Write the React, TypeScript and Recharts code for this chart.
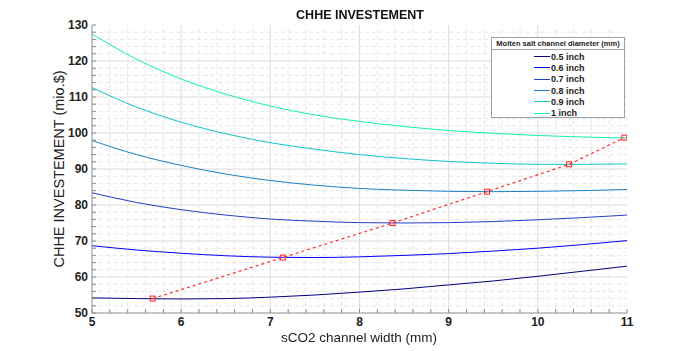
import { Line, LineChart, ReferenceLine, XAxis, YAxis } from "recharts";

// sCO2 channel width (mm) sampled every 0.5 mm
const widths = [5, 5.5, 6, 6.5, 7, 7.5, 8, 8.5, 9, 9.5, 10, 10.5, 11];

// CHHE investment (mio.$) per molten salt channel diameter
const cost05 = [54.2, 54.0, 53.9, 54.0, 54.4, 55.0, 55.8, 56.7, 57.8, 58.9, 60.2, 61.6, 63.0];
const cost06 = [68.7, 67.5, 66.6, 65.9, 65.5, 65.4, 65.6, 66.0, 66.5, 67.2, 68.0, 69.0, 70.1];
const cost07 = [83.4, 80.7, 78.7, 77.2, 76.1, 75.5, 75.1, 75.0, 75.1, 75.4, 75.9, 76.5, 77.2];
const cost08 = [97.9, 94.0, 91.0, 88.6, 86.8, 85.5, 84.6, 84.1, 83.8, 83.7, 83.8, 84.0, 84.3];
const cost09 = [112.6, 107.2, 103.0, 99.8, 97.3, 95.5, 94.0, 92.9, 92.1, 91.6, 91.3, 91.3, 91.4];
const cost10 = [127.5, 120.5, 115.0, 110.8, 107.5, 105.0, 103.2, 101.8, 100.7, 99.9, 99.3, 98.9, 98.6];

// optimum (minimum cost) points
const optWidth = [5.68, 7.14, 8.37, 9.43, 10.35, 10.97];
const optCost = [54.0, 65.4, 75.0, 83.7, 91.3, 98.7];

const xMajor = [5, 6, 7, 8, 9, 10, 11];
const yMajor = [50, 60, 70, 80, 90, 100, 110, 120, 130];

const series = [
  { key: "c05", name: "0.5 inch", color: "#000080", values: cost05 },
  { key: "c06", name: "0.6 inch", color: "#0000ff", values: cost06 },
  { key: "c07", name: "0.7 inch", color: "#1f40c8", values: cost07 },
  { key: "c08", name: "0.8 inch", color: "#1a80c8", values: cost08 },
  { key: "c09", name: "0.9 inch", color: "#10c4c8", values: cost09 },
  { key: "c10", name: "1 inch", color: "#10f0b4", values: cost10 }
];

const data = widths.map((w, i) => {
  const row: Record<string, number> = { w };
  series.forEach((s) => (row[s.key] = s.values[i]));
  return row;
});
const optData = optWidth.map((w, i) => ({ w, opt: optCost[i] }));

const xTicks: number[] = [];
for (let v = 50; v <= 110; v += 2) xTicks.push(v / 10);
const yTicks: number[] = [];
for (let v = 50; v <= 130; v += 2) yTicks.push(v);

const FONT = '"Liberation Sans", Arial, sans-serif';
const AXIS = "#8c8c8c";
const isMajor = (v: number, list: number[]) => list.some((m) => Math.abs(m - v) < 1e-6);

function XTick({ x, y, payload, side }: any) {
  const dir = side === "top" ? 1 : -1;
  return (
    <g>
      <line x1={x} y1={y} x2={x} y2={y + dir * 4} stroke={AXIS} />
      {side !== "top" && isMajor(payload.value, xMajor) && (
        <text x={x} y={y + 13} textAnchor="middle" fontSize={12} fontWeight="bold" fill="#222" fontFamily={FONT}>
          {payload.value}
        </text>
      )}
    </g>
  );
}

function YTick({ x, y, payload, side }: any) {
  const dir = side === "right" ? -1 : 1;
  return (
    <g>
      <line x1={x} y1={y} x2={x + dir * 4} y2={y} stroke={AXIS} />
      {side !== "right" && isMajor(payload.value, yMajor) && (
        <text x={x - 4} y={y + 4} textAnchor="end" fontSize={12} fontWeight="bold" fill="#222" fontFamily={FONT}>
          {payload.value}
        </text>
      )}
    </g>
  );
}

function OptDot({ cx, cy }: any) {
  return <rect x={cx - 2.5} y={cy - 2.5} width={5} height={5} fill="none" stroke="#ff2020" strokeWidth={1} />;
}

function LegendBox() {
  return (
    <div
      style={{
        position: "absolute",
        left: 491,
        top: 37,
        width: 132,
        height: 79,
        border: "1px solid #a0a0a0",
        background: "#fff",
        fontFamily: FONT,
        color: "#222"
      }}
    >
      <div style={{ fontSize: 7.5, fontWeight: "bold", textAlign: "center", lineHeight: "11px", borderBottom: "1px solid #a0a0a0" }}>
        Molten salt channel diameter (mm)
      </div>
      <div style={{ paddingTop: 1 }}>
        {series.map((s) => (
          <div key={s.key} style={{ display: "flex", alignItems: "center", height: 11.3, paddingLeft: 42 }}>
            <span style={{ display: "inline-block", width: 16, height: 1, background: s.color, marginRight: 1 }} />
            <span style={{ fontSize: 9, fontWeight: "bold" }}>{s.name}</span>
          </div>
        ))}
      </div>
    </div>
  );
}

export default function App() {
  return (
    <div style={{ position: "fixed", left: 0, top: 0, width: 700, height: 351, background: "#fff" }}>
      <LineChart width={700} height={351} data={data} margin={{ top: 25, right: 73, bottom: 0, left: 52 }}>
        <XAxis
          dataKey="w"
          type="number"
          domain={[5, 11]}
          ticks={xTicks}
          interval={0}
          height={38}
          tickSize={0}
          tickMargin={0}
          stroke={AXIS}
          tick={(p: any) => <XTick {...p} side="bottom" />}
          allowDataOverflow
        />
        <XAxis
          xAxisId="top"
          orientation="top"
          type="number"
          domain={[5, 11]}
          ticks={xTicks}
          interval={0}
          height={0}
          tickSize={0}
          tickMargin={0}
          stroke={AXIS}
          tick={(p: any) => <XTick {...p} side="top" />}
          allowDataOverflow
        />
        <YAxis
          type="number"
          domain={[50, 130]}
          ticks={yTicks}
          interval={0}
          width={40}
          tickSize={0}
          tickMargin={0}
          stroke={AXIS}
          tick={(p: any) => <YTick {...p} side="left" />}
          allowDataOverflow
        />
        <YAxis
          yAxisId="right"
          orientation="right"
          type="number"
          domain={[50, 130]}
          ticks={yTicks}
          interval={0}
          width={0}
          tickSize={0}
          tickMargin={0}
          stroke={AXIS}
          tick={(p: any) => <YTick {...p} side="right" />}
          allowDataOverflow
        />
        {xTicks
          .filter((v) => v > 5 && v < 11)
          .map((v) => (
            <ReferenceLine
              key={`gx${v}`}
              x={v}
              stroke={isMajor(v, xMajor) ? "#dcdcdc" : "#e6e6e6"}
              strokeDasharray={isMajor(v, xMajor) ? undefined : "4 3"}
            />
          ))}
        {yTicks
          .filter((v) => v > 50 && v < 130)
          .map((v) => (
            <ReferenceLine
              key={`gy${v}`}
              y={v}
              stroke={isMajor(v, yMajor) ? "#dcdcdc" : "#e6e6e6"}
              strokeDasharray={isMajor(v, yMajor) ? undefined : "4 3"}
            />
          ))}
        {series.map((s) => (
          <Line
            key={s.key}
            type="monotone"
            dataKey={s.key}
            name={s.name}
            stroke={s.color}
            strokeWidth={1}
            dot={false}
            isAnimationActive={false}
          />
        ))}
        <Line
          data={optData}
          type="linear"
          dataKey="opt"
          stroke="#ff3030"
          strokeWidth={1.2}
          strokeDasharray="3 3"
          dot={<OptDot />}
          isAnimationActive={false}
        />
      </LineChart>
      <div
        style={{
          position: "absolute",
          left: 0,
          width: 720,
          top: 8,
          textAlign: "center",
          fontFamily: FONT,
          fontWeight: "bold",
          fontSize: 12.5,
          color: "#111"
        }}
      >
        CHHE INVESTEMENT
      </div>
      <div
        style={{
          position: "absolute",
          left: 0,
          width: 718,
          top: 330,
          lineHeight: "15px",
          textAlign: "center",
          fontFamily: FONT,
          fontSize: 13.5,
          color: "#222"
        }}
      >
        sCO2 channel width (mm)
      </div>
      <div
        style={{
          position: "absolute",
          left: 59,
          top: 169,
          transform: "translate(-50%, -50%) rotate(-90deg)",
          whiteSpace: "nowrap",
          fontFamily: FONT,
          fontSize: 14.5,
          color: "#222"
        }}
      >
        CHHE INVESTEMENT (mio.$)
      </div>
      <LegendBox />
    </div>
  );
}
